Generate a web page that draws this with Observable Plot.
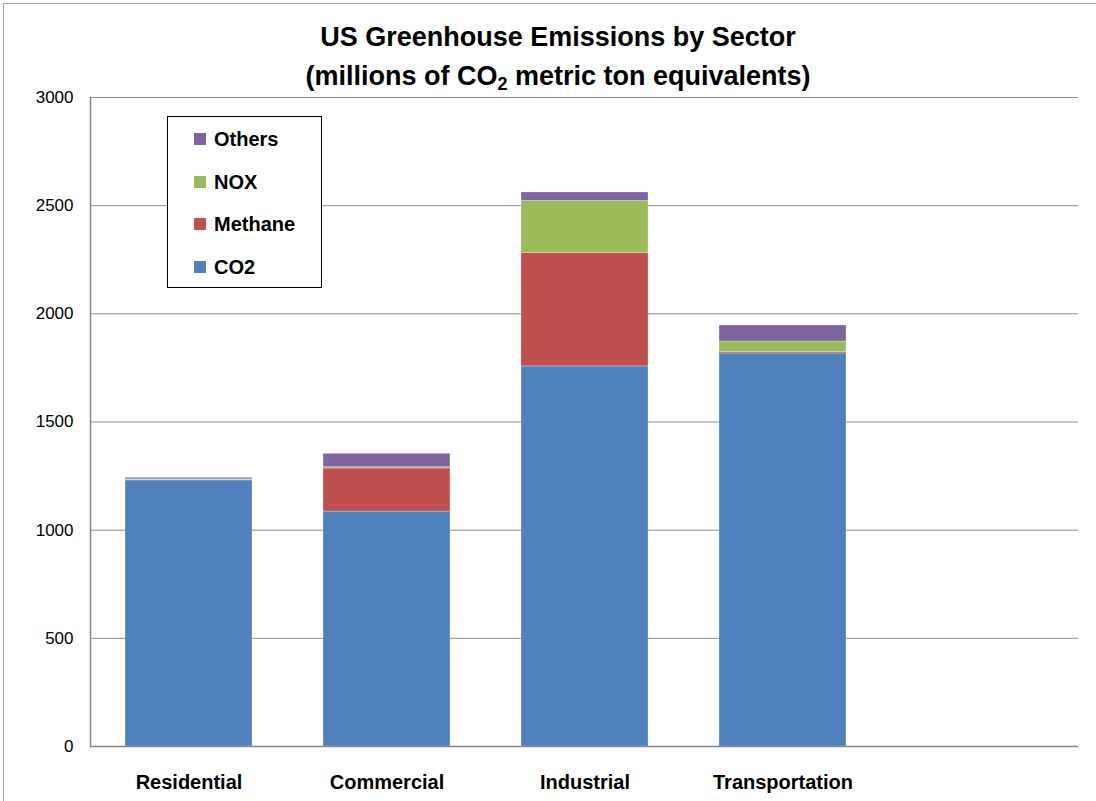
<!DOCTYPE html>
<html>
<head>
<meta charset="utf-8">
<script src="https://cdn.jsdelivr.net/npm/d3@7"></script>
<script src="https://cdn.jsdelivr.net/npm/@observablehq/plot@0.6"></script>
<style>
  html, body { margin: 0; padding: 0; background: #fff; overflow: hidden; }
  #wrap { position: relative; width: 1096px; height: 801px; font-family: "Liberation Sans", Arial, sans-serif; }
  #frame { position: absolute; left: 3px; top: 3px; width: 1200px; height: 900px; border: 1.5px solid #a6a6a6; box-sizing: border-box; }
  #chart { position: absolute; left: 0; top: 0; }
  #title { position: absolute; left: 0; width: 1116px; top: 18px; text-align: center; font-weight: bold; font-size: 27px; line-height: 39px; color: #000; }
  #title sub { font-size: 18px; vertical-align: -5px; line-height: 0; }
  #legend { position: absolute; left: 167px; top: 116px; width: 155px; height: 172px; border: 1px solid #000; box-sizing: border-box; background: #fff; }
  .li { position: absolute; left: 26px; font-weight: bold; font-size: 20px; line-height: 24px; color: #000; white-space: nowrap; }
  .sw { display: inline-block; width: 12px; height: 12px; margin-right: 8px; vertical-align: 1px; }
</style>
</head>
<body>
<div id="wrap">
  <div id="frame"></div>
  <div id="chart"></div>
  <div id="title">US Greenhouse Emissions by Sector<br>(millions of CO<sub>2</sub> metric ton equivalents)</div>
  <div id="legend"></div>
</div>
<script>
const sectors = ["Residential", "Commercial", "Industrial", "Transportation", " "];
const gases = ["CO2", "Methane", "NOX", "Others"];
const colors = ["#4F81BD", "#C0504D", "#9BBB59", "#8064A2"];
const co2     = [1230, 1086, 1757, 1817];
const methane = [2, 199, 525, 6];
const nox     = [3, 6, 240, 49];
const others  = [7, 62, 39, 74];
const yTicks = [0, 500, 1000, 1500, 2000, 2500, 3000];

const series = [co2, methane, nox, others];
const data = [];
gases.forEach((g, gi) => {
  series[gi].forEach((v, si) => data.push({sector: sectors[si], gas: g, value: v}));
});

const chart = Plot.plot({
  width: 1096,
  height: 801,
  marginLeft: 90,
  marginRight: 18,
  marginTop: 97,
  marginBottom: 55,
  style: {fontFamily: "'Liberation Sans', Arial, sans-serif", background: "transparent"},
  x: {domain: sectors, paddingInner: 0.36, paddingOuter: 0.17, label: null},
  y: {domain: [0, 3000], label: null},
  color: {domain: gases, range: colors},
  marks: [
    Plot.gridY(yTicks, {stroke: "#8c8c8c", strokeOpacity: 1, strokeWidth: 1}),
    Plot.barY(data, {x: "sector", y: "value", fill: "gas", order: gases, stroke: "#ffffff", strokeOpacity: 0.35, strokeWidth: 0.8}),
    Plot.ruleY([0], {stroke: "#868686", strokeWidth: 1.5}),
    Plot.frame({anchor: "left", stroke: "#868686", strokeWidth: 1.5}),
    Plot.axisY(yTicks, {tickSize: 0, tickPadding: 17, fontSize: 17, fill: "#000", label: null, tickFormat: d3.format("d")}),
    Plot.axisX({tickSize: 0, tickPadding: 28, fontSize: 20, fontWeight: "bold", fill: "#000", label: null})
  ]
});
document.getElementById("chart").appendChild(chart);

const legend = document.getElementById("legend");
const order = ["Others", "NOX", "Methane", "CO2"];
const tops = [10, 53, 95, 138];
order.forEach((g, i) => {
  const d = document.createElement("div");
  d.className = "li";
  d.style.top = tops[i] + "px";
  const s = document.createElement("span");
  s.className = "sw";
  s.style.background = colors[gases.indexOf(g)];
  d.appendChild(s);
  d.appendChild(document.createTextNode(g));
  legend.appendChild(d);
});
</script>
</body>
</html>
